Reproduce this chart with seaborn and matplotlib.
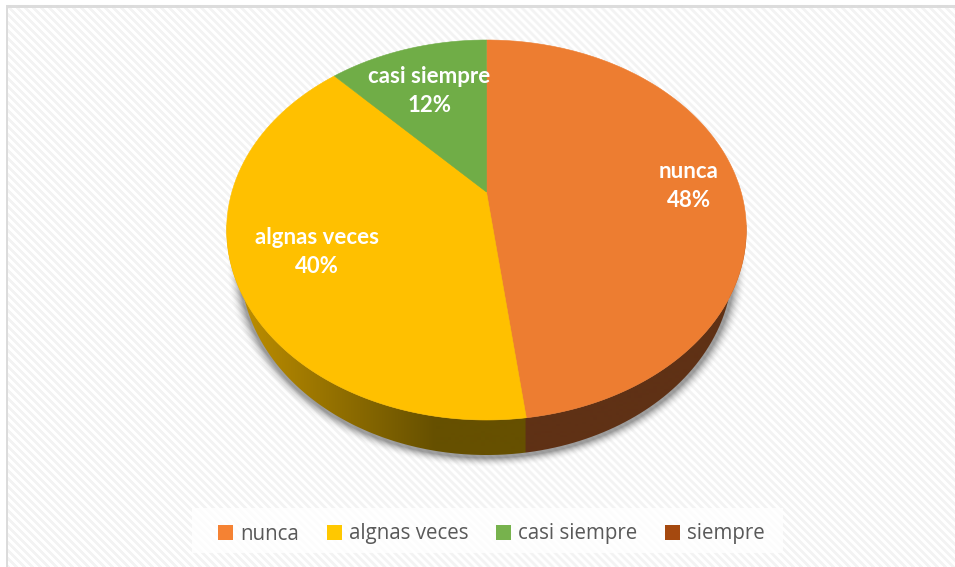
import numpy as np
import matplotlib
matplotlib.use('Agg')
import matplotlib.pyplot as plt
from matplotlib.patches import Patch, Polygon, Rectangle
from matplotlib.colors import to_rgb
import seaborn as sns

# datos del grafico
categorias = ['nunca', 'algnas veces', 'casi siempre', 'siempre']
porcentajes = [48, 40, 12, 0]
colores = ['#ED7D31', '#FFC000', '#70AD47', '#A5490F']
colores_leyenda = ['#F58233', '#FFC800', '#77B24D', '#A5490F']

# geometria de la tarta en perspectiva (pixeles)
CX, APEX_Y = 486.5, 192
RADIO, ALTO, PERSP = 254.6, 144, 0.2
BASE_CY, BASE_A, BASE_B = 265, 246, 190


def proyectar(angulo):
    # angulo en grados desde arriba, sentido horario
    t = np.radians(angulo)
    x, y = np.sin(t), np.cos(t)
    w = 1 + PERSP * y
    return CX + RADIO * x / w, (APEX_Y - ALTO * y) / w


def elipse_base(t):
    return CX + BASE_A * np.cos(t), BASE_CY + BASE_B * np.sin(t)


sns.set_theme(style='white')
plt.rcParams['font.family'] = ['Lato', 'DejaVu Sans']

fig = plt.figure(figsize=(9.55, 5.67), dpi=100)
ax = fig.add_axes([0, 0, 1, 1])
ax.set_xlim(0, 955)
ax.set_ylim(567, 0)
ax.axis('off')

# fondo rayado y marco
yy, xx = np.mgrid[0:567, 0:955]
fondo = np.where((xx - yy) % 8 < 4, 0.955, 1.0)
fondo[:5, :] = 1.0
fondo[:, :6] = 1.0
fondo[5:8, 6:] = 0.86
fondo[5:, 6:8] = 0.86
ax.imshow(fondo, cmap='gray', vmin=0, vmax=1, extent=(0, 955, 567, 0), zorder=0, aspect='auto')

# sombra difusa bajo la tarta
px = xx + 0.5
py = yy + 0.5
d = np.sqrt(((px - CX) / (BASE_A + 3)) ** 2 + ((py - BASE_CY - 1) / (BASE_B + 3)) ** 2)
alfa = np.clip((1.045 - d) / 0.05, 0, 1) ** 2 * 0.5
sombra = np.zeros((567, 955, 4))
sombra[..., :3] = 0.25
sombra[..., 3] = alfa
ax.imshow(sombra, extent=(0, 955, 567, 0), zorder=1, aspect='auto')

# pared lateral con degradado
limites = np.cumsum([0] + porcentajes) / sum(porcentajes) * 360
x_corte = proyectar(limites[1])[0]
xs = np.arange(955) + 0.5
oscuro = np.array(to_rgb('#5F3115'))
dorado_a = np.array(to_rgb('#C09000'))
dorado_b = np.array(to_rgb('#665000'))
mezcla = np.clip((xs - 235) / (435 - 235), 0, 1)[:, None]
pared = dorado_a * (1 - mezcla) + dorado_b * mezcla
pared[xs > x_corte - 1] = oscuro
tiras = ax.imshow(pared[None, :, :], extent=(0, 955, 567, 0), zorder=2, aspect='auto')

tb = np.radians(np.linspace(-8, 188, 200))
bx, by = elipse_base(tb)
sx, sy = proyectar(np.linspace(100, 260, 200))
casco = Polygon(np.column_stack([np.r_[sx, bx[::-1]], np.r_[sy, by[::-1]]]), closed=True,
                transform=ax.transData, fc='none', ec='none')
ax.add_patch(casco)
tiras.set_clip_path(casco)

# cara superior de la tarta
for ini, fin, color in zip(limites[:-1], limites[1:], colores):
    if fin == ini:
        continue
    a = np.linspace(ini, fin, 240)
    fx, fy = proyectar(a)
    ax.fill(np.r_[CX, fx], np.r_[APEX_Y, fy], color=color, lw=0.4, zorder=3)

# etiquetas de datos
pos_etiquetas = [(689, 186), (316.5, 252), (429.5, 91)]
for cat, val, (tx, ty) in zip(categorias, porcentajes, pos_etiquetas):
    ax.text(tx, ty, f'{cat}\n{val}%', color='white', fontsize=16, fontweight='bold',
            ha='center', va='center', linespacing=1.5, zorder=4)

# leyenda
ax.add_patch(Rectangle((192, 508), 591, 45, fc='white', ec='none', alpha=0.8, zorder=5))
asas = [Patch(facecolor=c, edgecolor='none') for c in colores_leyenda]
ley = ax.legend(asas, categorias, ncol=4, loc='center', bbox_to_anchor=(491.5, 534),
                bbox_transform=ax.transData, frameon=False,
                prop={'family': 'Open Sans', 'size': 14.8},
                labelcolor='#595959', handlelength=0.72, handleheight=0.72, handletextpad=0.33,
                columnspacing=1.37, borderpad=0, borderaxespad=0)
ley.set_zorder(6)

fig.savefig('out.png', dpi=100)
plt.close(fig)
